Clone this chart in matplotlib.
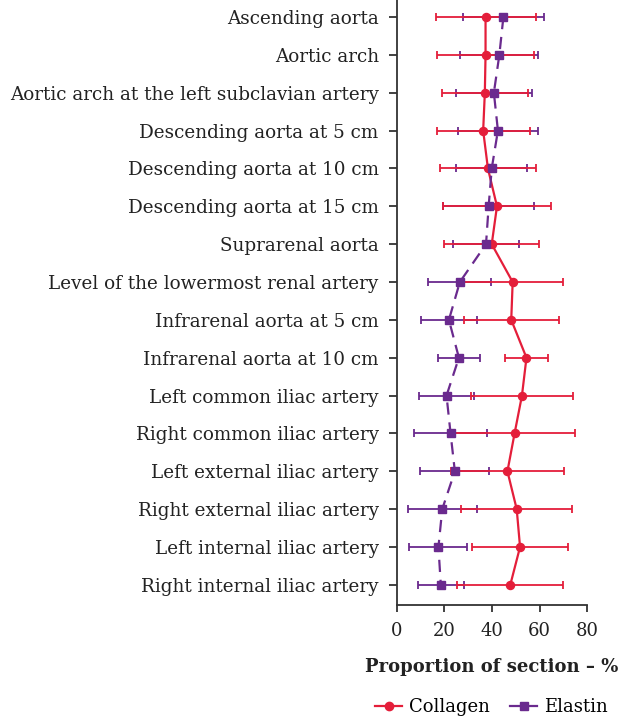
import matplotlib
matplotlib.use('Agg')
import matplotlib.pyplot as plt
from matplotlib.lines import Line2D

# --- data ---
segments = [
    'Ascending aorta',
    'Aortic arch',
    'Aortic arch at the left subclavian artery',
    'Descending aorta at 5 cm',
    'Descending aorta at 10 cm',
    'Descending aorta at 15 cm',
    'Suprarenal aorta',
    'Level of the lowermost renal artery',
    'Infrarenal aorta at 5 cm',
    'Infrarenal aorta at 10 cm',
    'Left common iliac artery',
    'Right common iliac artery',
    'Left external iliac artery',
    'Right external iliac artery',
    'Left internal iliac artery',
    'Right internal iliac artery',
]
collagen_mean = [37.3, 37.3, 37.0, 36.3, 38.3, 42.1, 39.9, 48.7, 48.1, 54.5, 52.6, 49.5, 46.5, 50.4, 51.8, 47.7]
collagen_sd = [21.0, 20.2, 18.2, 19.6, 20.1, 22.8, 20.0, 21.3, 20.0, 9.2, 21.4, 25.6, 23.7, 23.4, 20.1, 22.3]
elastin_mean = [44.8, 43.1, 40.8, 42.5, 39.9, 38.6, 37.5, 26.5, 21.9, 26.1, 20.9, 22.6, 24.4, 19.1, 17.5, 18.5]
elastin_sd = [17.1, 16.4, 16.0, 16.8, 15.0, 19.1, 14.0, 13.3, 11.6, 8.8, 11.5, 15.5, 14.5, 14.4, 12.2, 9.6]
x_ticks = [0, 20, 40, 60, 80]

red = '#E41E3A'
purple = '#6A2A8E'
serif = ['DejaVu Serif']

fig = plt.figure(figsize=(6.2, 7.21), dpi=100)
ax = fig.add_axes([0.640, 0.161, 0.307, 0.839])

ypos = list(range(len(segments)))

# error bars (elastin under collagen)
ax.errorbar(elastin_mean, ypos, xerr=elastin_sd, fmt='none', ecolor=purple,
            elinewidth=1.3, capsize=2.6, capthick=1.3, zorder=1)
ax.errorbar(collagen_mean, ypos, xerr=collagen_sd, fmt='none', ecolor=red,
            elinewidth=1.3, capsize=2.6, capthick=1.3, zorder=2)

# connecting lines
ax.plot(collagen_mean, ypos, color=red, lw=1.6, zorder=3)
ax.plot(elastin_mean, ypos, color=purple, lw=1.6, ls=(0, (5.5, 3.5)), zorder=3)

# markers on top
ax.plot(collagen_mean, ypos, 'o', color=red, ms=5.8, zorder=4)
ax.plot(elastin_mean, ypos, 's', color=purple, ms=5.6, zorder=5)

ax.set_xlim(0, 80)
ax.set_ylim(15.53, -0.45)
ax.set_xticks(x_ticks)
ax.set_xticklabels([str(t) for t in x_ticks], family=serif, fontsize=13)
ax.set_yticks(ypos)
ax.set_yticklabels(segments, family=serif, fontsize=13.2)

for side in ['top', 'right']:
    ax.spines[side].set_visible(False)
for side in ['left', 'bottom']:
    ax.spines[side].set_color('#333333')
    ax.spines[side].set_linewidth(1.3)
ax.tick_params(axis='y', length=6, width=1.3, color='#333333', pad=7, labelcolor='#222222')
ax.tick_params(axis='x', length=5, width=1.3, color='#333333', pad=7, labelcolor='#222222')

ax.set_xlabel('Proportion of section \u2013 %', family=serif, fontsize=13,
              fontweight='bold', labelpad=13, color='#222222')

handles = [
    Line2D([], [], color=red, lw=1.6, marker='o', ms=6),
    Line2D([], [], color=purple, lw=1.6, marker='s', ms=6),
]
fig.legend(handles, ['Collagen', 'Elastin'], loc='center', bbox_to_anchor=(0.793, 0.019),
           ncol=2, frameon=False, handlelength=1.5, columnspacing=1.1, handletextpad=0.4,
           prop={'family': serif, 'size': 13})

fig.savefig('out.png', dpi=100)
